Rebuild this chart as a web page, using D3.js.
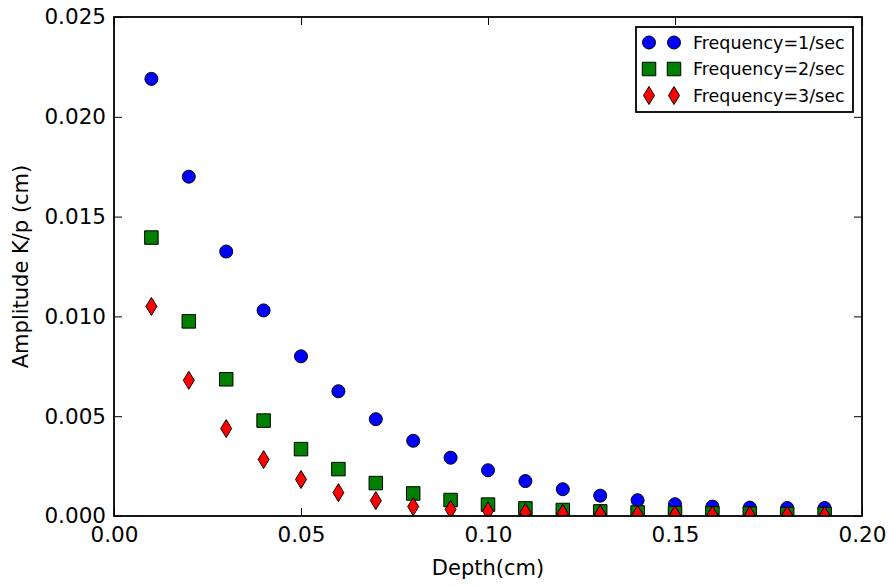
<!DOCTYPE html>
<html>
<head>
<meta charset="utf-8">
<script src="https://cdn.jsdelivr.net/npm/d3@7"></script>
<style>
  body { margin: 0; background: #fff; }
  svg text { font-family: "DejaVu Sans", sans-serif; fill: #000; }
</style>
</head>
<body>
<div id="chart"></div>
<script>
// depth values (cm)
var depth = [0.01, 0.02, 0.03, 0.04, 0.05, 0.06, 0.07, 0.08, 0.09, 0.10,
             0.11, 0.12, 0.13, 0.14, 0.15, 0.16, 0.17, 0.18, 0.19];

var freq1 = [0.0219, 0.0170, 0.01325, 0.0103, 0.0080, 0.00625, 0.00485, 0.00377, 0.00292, 0.00229,
             0.00175, 0.00134, 0.00102, 0.00079, 0.00059, 0.00047, 0.00042, 0.0004, 0.0004];
var freq2 = [0.01395, 0.00975, 0.00685, 0.00478, 0.00335, 0.00235, 0.00165, 0.00113, 0.0008, 0.00057,
             0.00038, 0.0003, 0.00023, 0.00018, 0.00015, 0.00013, 0.00012, 0.0001, 0.0001];
var freq3 = [0.0105, 0.0068, 0.00438, 0.00283, 0.00183, 0.00117, 0.00077, 0.00047, 0.00033, 0.00025,
             0.00018, 0.00013, 0.0001, 0.00008, 0.00006, 0.00005, 0.00004, 0.00004, 0.00003];

var seriesNames = ["Frequency=1/sec", "Frequency=2/sec", "Frequency=3/sec"];
var xTicks = [0.00, 0.05, 0.10, 0.15, 0.20];
var yTicks = [0.000, 0.005, 0.010, 0.015, 0.020, 0.025];

var width = 889, height = 586;
var margin = {top: 17, right: 27, bottom: 70, left: 114};
var plotW = width - margin.left - margin.right;
var plotH = height - margin.top - margin.bottom;

var svg = d3.select("#chart").append("svg")
  .attr("width", width)
  .attr("height", height);

var x = d3.scaleLinear().domain([0, 0.2]).range([0, plotW]);
var y = d3.scaleLinear().domain([0, 0.025]).range([plotH, 0]);

svg.append("defs").append("clipPath").attr("id", "plotClip")
  .append("rect").attr("width", plotW).attr("height", plotH);

var g = svg.append("g").attr("transform", "translate(" + margin.left + "," + margin.top + ")");

// axes with inward ticks on all sides
var tickLen = 8;
g.append("g").attr("transform", "translate(0," + plotH + ")")
  .call(d3.axisBottom(x).tickValues(xTicks).tickSizeInner(-tickLen).tickSizeOuter(0).tickPadding(11)
    .tickFormat(function(d){ return d.toFixed(2); }));
g.append("g").call(d3.axisTop(x).tickValues(xTicks).tickSizeInner(-tickLen).tickSizeOuter(0).tickFormat(""));
g.append("g")
  .call(d3.axisLeft(y).tickValues(yTicks).tickSizeInner(-tickLen).tickSizeOuter(0).tickPadding(8)
    .tickFormat(function(d){ return d.toFixed(3); }));
g.append("g").attr("transform", "translate(" + plotW + ",0)")
  .call(d3.axisRight(y).tickValues(yTicks).tickSizeInner(-tickLen).tickSizeOuter(0).tickFormat(""));

g.selectAll(".domain").remove();
g.selectAll(".tick line").attr("stroke", "#000").attr("stroke-width", 1);
g.selectAll(".tick text").attr("font-size", "21.5px").attr("fill", "#000");

// markers
var marks = g.append("g").attr("clip-path", "url(#plotClip)");

var sym = {
  circle: d3.symbol().type(d3.symbolCircle).size(Math.PI * 6.5 * 6.5),
  square: d3.symbol().type(d3.symbolSquare).size(13.5 * 13.5)
};
var diamondPath = "M0,-9L5.5,0L0,9L-5.5,0Z";

var series = [
  {name: seriesNames[0], values: freq1, color: "#0000ff", shape: sym.circle()},
  {name: seriesNames[1], values: freq2, color: "#008000", shape: sym.square()},
  {name: seriesNames[2], values: freq3, color: "#ff0000", shape: diamondPath}
];

series.forEach(function(s) {
  marks.selectAll(null)
    .data(depth.map(function(d, i){ return [d, s.values[i]]; }))
    .enter().append("path")
    .attr("d", s.shape)
    .attr("transform", function(d){ return "translate(" + x(d[0]) + "," + y(d[1]) + ")"; })
    .attr("fill", s.color)
    .attr("stroke", "#000")
    .attr("stroke-width", 1);
});

// frame
g.append("rect").attr("width", plotW).attr("height", plotH)
  .attr("fill", "none").attr("stroke", "#000").attr("stroke-width", 1.8);

// axis labels
svg.append("text")
  .attr("x", margin.left + plotW / 2).attr("y", 575)
  .attr("text-anchor", "middle").attr("font-size", "21px")
  .text("Depth(cm)");
svg.append("text")
  .attr("transform", "translate(28," + (margin.top + plotH / 2) + ") rotate(-90)")
  .attr("text-anchor", "middle").attr("font-size", "21px")
  .text("Amplitude K/p (cm)");

// legend
var lg = svg.append("g").attr("transform", "translate(636,27)");
lg.append("rect").attr("width", 217).attr("height", 85)
  .attr("fill", "#fff").attr("stroke", "#000").attr("stroke-width", 1.8);
series.forEach(function(s, i) {
  var ry = 15.5 + i * 26.5;
  [13, 38].forEach(function(mx) {
    lg.append("path").attr("d", s.shape)
      .attr("transform", "translate(" + mx + "," + ry + ")")
      .attr("fill", s.color).attr("stroke", "#000").attr("stroke-width", 1);
  });
  lg.append("text").attr("x", 57).attr("y", ry).attr("dy", "0.35em")
    .attr("font-size", "17.5px").text(s.name);
});
</script>
</body>
</html>
